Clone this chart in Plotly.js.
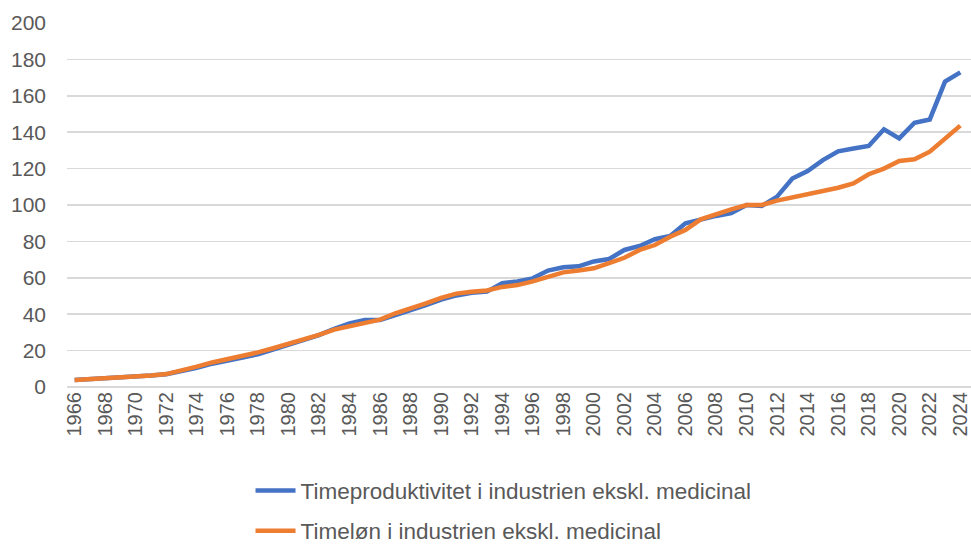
<!DOCTYPE html>
<html>
<head>
<meta charset="utf-8">
<script src="https://cdn.plot.ly/plotly-3.0.1.min.js"></script>
<style>
html,body{margin:0;padding:0;background:#fff;}
#chart{width:971px;height:545px;}
</style>
</head>
<body>
<div id="chart"></div>
<script>
const years = [1966,1967,1968,1969,1970,1971,1972,1973,1974,1975,1976,1977,1978,1979,1980,1981,1982,1983,1984,1985,1986,1987,1988,1989,1990,1991,1992,1993,1994,1995,1996,1997,1998,1999,2000,2001,2002,2003,2004,2005,2006,2007,2008,2009,2010,2011,2012,2013,2014,2015,2016,2017,2018,2019,2020,2021,2022,2023,2024];

const productivity = [3.8,4.2,4.6,5.1,5.7,6.3,7.0,8.5,10.5,12.8,14.3,16.2,18.0,20.5,23.0,25.8,28.5,32.0,35.0,36.8,36.8,39.5,42.0,45.0,48.0,50.3,51.8,52.4,57.0,58.0,59.7,64.0,65.8,66.3,69.0,70.3,75.3,77.5,81.2,83.0,89.9,92.1,94.0,95.5,100,99.5,104.6,114.5,118.7,124.7,129.5,131.0,132.4,141.6,136.6,145.2,147.0,167.8,172.9];

const wages = [3.8,4.2,4.6,5.1,5.7,6.3,7.1,9.0,11.2,13.5,15.2,17.0,19.0,21.3,23.6,26.0,28.6,31.5,33.5,35.5,37.0,40.5,43.0,46.0,49.0,51.3,52.3,53.0,55.0,56.0,58.0,60.5,63.0,64.0,65.2,68.0,71.0,75.3,78.0,82.6,86.3,92.1,95.0,97.6,100,100,102.4,104.0,105.9,107.7,109.5,111.9,116.9,120.0,124.2,125.1,129.3,136.1,143.6];

const xTicks = [1966,1968,1970,1972,1974,1976,1978,1980,1982,1984,1986,1988,1990,1992,1994,1996,1998,2000,2002,2004,2006,2008,2010,2012,2014,2016,2018,2020,2022,2024];
const yTicks = [0,20,40,60,80,100,120,140,160,180,200];

const seriesNames = ["Timeproduktivitet i industrien ekskl. medicinal","Timeløn i industrien ekskl. medicinal"];

const fontFam = "Liberation Sans, Arial, sans-serif";
const txtColor = "#595959";

const traces = [
  {x: years, y: productivity, type: "scatter", mode: "lines", name: seriesNames[0],
   legendgroup: "a", line: {color: "#4472C4", width: 4.5}},
  {x: years, y: wages, type: "scatter", mode: "lines", name: seriesNames[1],
   legendgroup: "b", line: {color: "#ED7D31", width: 4.5}}
];

const layout = {
  width: 971, height: 545,
  margin: {l: 67, r: 0, t: 23, b: 158, autoexpand: false},
  paper_bgcolor: "#fff", plot_bgcolor: "#fff",
  font: {family: fontFam, color: txtColor, size: 21},
  xaxis: {
    type: "linear", range: [1965.5, 2024.7],
    tickmode: "array", tickvals: xTicks, ticktext: xTicks.map(String),
    tickangle: -90, showgrid: false, zeroline: false, showline: false,
    ticklabeloverflow: "allow", automargin: false,
    tickfont: {family: fontFam, size: 20, color: txtColor}, fixedrange: true
  },
  yaxis: {
    range: [0, 200], tickmode: "array", tickvals: yTicks,
    showgrid: true, gridcolor: "#d9d9d9", gridwidth: 1.5,
    zeroline: true, zerolinecolor: "#d9d9d9", zerolinewidth: 1.5,
    showline: false, ticklabelstandoff: 20, automargin: false,
    tickfont: {family: fontFam, size: 21, color: txtColor}, fixedrange: true
  },
  showlegend: true,
  legend: {
    orientation: "v", x: 0.203, xanchor: "left", y: -0.226, yanchor: "top",
    traceorder: "grouped", tracegroupgap: 8,
    font: {family: fontFam, size: 22.5, color: txtColor},
    bgcolor: "rgba(0,0,0,0)", itemwidth: 40
  }
};

Plotly.newPlot("chart", traces, layout, {displayModeBar: false, staticPlot: true});
</script>
</body>
</html>
